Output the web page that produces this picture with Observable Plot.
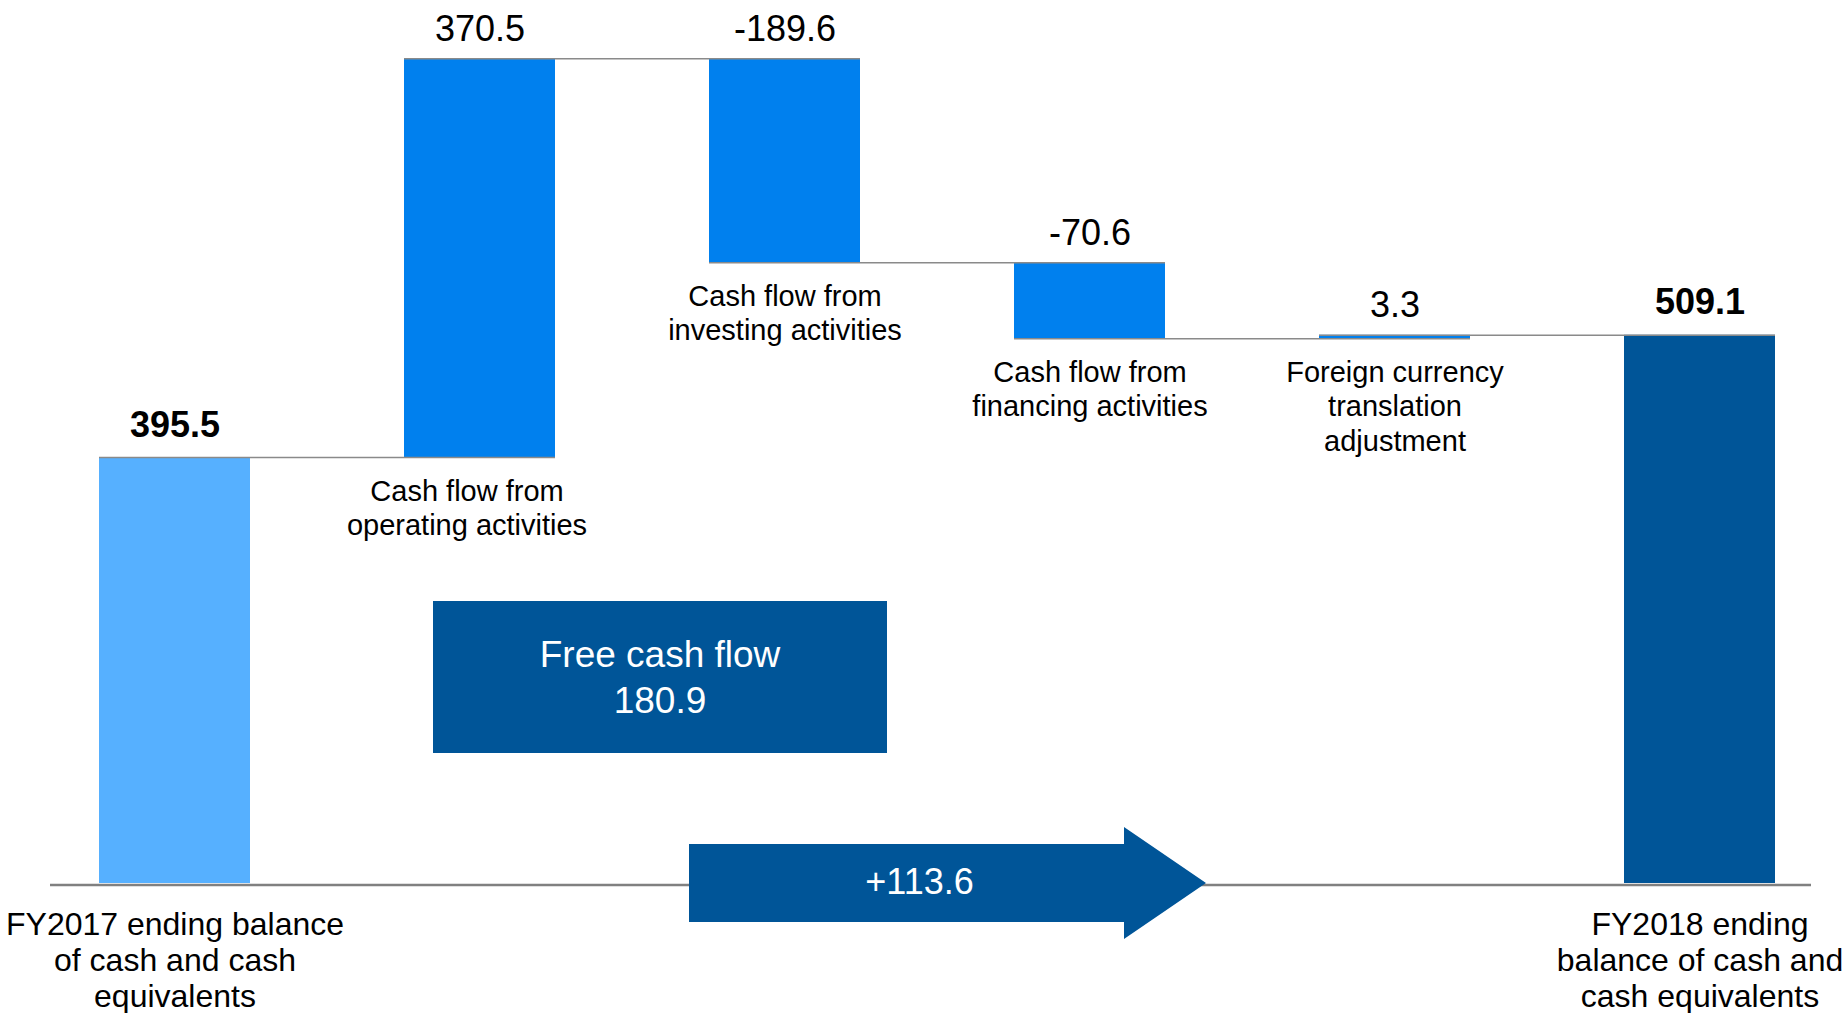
<!DOCTYPE html>
<html>
<head>
<meta charset="utf-8">
<script src="https://cdn.jsdelivr.net/npm/d3@7"></script>
<script src="https://cdn.jsdelivr.net/npm/@observablehq/plot@0.6"></script>
<style>
  html, body { margin: 0; padding: 0; background: #fff; }
  #chart svg { display: block; overflow: visible; }
</style>
</head>
<body>
<div id="chart"></div>
<script>
// ---- data ----
const categories = [
  "FY2017 ending balance\nof cash and cash\nequivalents",
  "Cash flow from\noperating activities",
  "Cash flow from\ninvesting activities",
  "Cash flow from\nfinancing activities",
  "Foreign currency\ntranslation\nadjustment",
  "FY2018 ending\nbalance of cash and\ncash equivalents"
];
const kinds = ["start", "flow", "flow", "flow", "flow", "end"];
const values = [395.5, 370.5, -189.6, -70.6, 3.3, 509.1];
const valueLabels = ["395.5", "370.5", "-189.6", "-70.6", "3.3", "509.1"];
const freeCashFlowLabel = "Free cash flow";
const freeCashFlowValue = "180.9";
const netChangeLabel = "+113.6";

// ---- build waterfall rows ----
let running = 0;
const rows = categories.map((c, i) => {
  const k = kinds[i];
  let y1, y2;
  if (k === "flow") { y1 = running; y2 = running + values[i]; running = y2; }
  else { y1 = 0; y2 = values[i]; running = values[i]; }
  return {i, cat: c, kind: k, y1, y2, top: Math.max(y1, y2), bottom: Math.min(y1, y2), label: valueLabels[i], level: running};
});
const connectors = rows.slice(0, -1).map((r, i) => ({a: r.cat, b: rows[i + 1].cat, level: r.level}));

const FONT = "Arial, 'Liberation Sans', sans-serif";
const flowLabelStyle = {x: "cat", y: "bottom", text: "cat", lineAnchor: "top", dy: 19, fontSize: 29, lineHeight: 1.18, fill: "#000"};

const plot = Plot.plot({
  width: 1842,
  height: 1013,
  marginTop: 0,
  marginBottom: 130,
  marginLeft: 38,
  marginRight: 6,
  x: {domain: categories, axis: null, paddingInner: 0.505, paddingOuter: 0.2},
  y: {domain: [0, 820], axis: null},
  color: {domain: ["start", "flow", "end"], range: ["#56B0FF", "#0080EE", "#005598"]},
  style: {fontFamily: FONT, background: "white", overflow: "visible"},
  marks: [
    Plot.ruleY([0], {stroke: "#808080", strokeWidth: 2.5, dy: 1.5, insetLeft: 12, insetRight: 25}),
    Plot.barY(rows, {x: "cat", y1: "y1", y2: "y2", fill: "kind"}),
    Plot.ruleY(connectors, {x1: "a", x2: "b", y: "level", stroke: "#8a8a8a", strokeWidth: 1.5}),
    // value labels
    Plot.text(rows.filter(d => d.kind === "flow"), {x: "cat", y: "top", text: "label", lineAnchor: "bottom", dy: -18, fontSize: 36, fill: "#000"}),
    Plot.text(rows.filter(d => d.kind !== "flow"), {x: "cat", y: "top", text: "label", lineAnchor: "bottom", dy: -21, fontSize: 36, fontWeight: "bold", fill: "#000"}),
    // category labels
    Plot.text(rows.filter(d => d.kind === "flow" && d.i !== 1), flowLabelStyle),
    Plot.text(rows.filter(d => d.i === 1), {...flowLabelStyle, dx: -13}),
    Plot.text(rows.filter(d => d.kind !== "flow"), {x: "cat", y: 0, text: "cat", lineAnchor: "top", dy: 25.5, fontSize: 32, lineHeight: 1.13, fill: "#000"})
  ]
});
document.getElementById("chart").appendChild(plot);

// ---- annotations positioned with the plot's own scales ----
const sx = plot.scale("x"), sy = plot.scale("y");
const bw = sx.bandwidth;
const y0 = sy.apply(0);
const svg = d3.select(plot);
const ann = svg.append("g").attr("font-family", FONT);

// Free cash flow box
const boxL = sx.apply(categories[1]) + 29;
const boxR = sx.apply(categories[2]) + bw + 27;
const boxT = y0 - 282, boxB = y0 - 130;
ann.append("rect").attr("x", boxL).attr("y", boxT).attr("width", boxR - boxL).attr("height", boxB - boxT).attr("fill", "#005598");
const bx = (boxL + boxR) / 2;
ann.append("text").attr("x", bx).attr("y", boxT + 66).attr("text-anchor", "middle").attr("font-size", 37).attr("fill", "#fff").text(freeCashFlowLabel);
ann.append("text").attr("x", bx).attr("y", boxT + 112).attr("text-anchor", "middle").attr("font-size", 37).attr("fill", "#fff").text(freeCashFlowValue);

// Net change arrow
const bodyL = sx.apply(categories[2]) - 20;
const tip = sx.apply(categories[3]) + bw + 41;
const bodyR = tip - 82;
const pts = [[bodyL, y0 - 39], [bodyR, y0 - 39], [bodyR, y0 - 56], [tip, y0], [bodyR, y0 + 56], [bodyR, y0 + 39], [bodyL, y0 + 39]];
ann.append("polygon").attr("points", pts.map(p => p.join(",")).join(" ")).attr("fill", "#005598");
ann.append("text").attr("x", (bodyL + bodyR) / 2 + 13).attr("y", y0 + 11).attr("text-anchor", "middle").attr("font-size", 36).attr("fill", "#fff").text(netChangeLabel);
</script>
</body>
</html>
